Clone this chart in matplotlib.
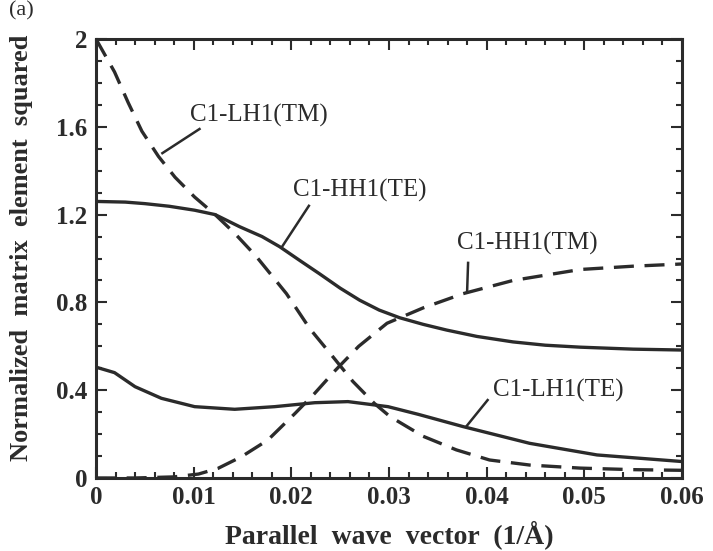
import matplotlib.pyplot as plt
from matplotlib.ticker import MultipleLocator

plt.rcParams['font.family'] = ['Liberation Serif', 'DejaVu Serif']

# curves (x in 1/A, y normalized)
x_lh1_tm = [0, 0.0019, 0.0033, 0.0047, 0.0064, 0.0081, 0.0101, 0.0122, 0.0142,
            0.0164, 0.0195, 0.0219, 0.0243, 0.0263, 0.0285, 0.0301, 0.0335,
            0.0369, 0.0403, 0.0444, 0.0496, 0.055, 0.06]
y_lh1_tm = [2.0, 1.85, 1.71, 1.58, 1.465, 1.37, 1.28, 1.20, 1.115,
            1.01, 0.84, 0.68, 0.55, 0.44, 0.34, 0.28, 0.19,
            0.128, 0.082, 0.059, 0.045, 0.038, 0.035]

x_hh1_te = [0, 0.003, 0.005, 0.0075, 0.0101, 0.0122, 0.0147, 0.017, 0.0188,
            0.0209, 0.0229, 0.025, 0.027, 0.029, 0.0311, 0.0335, 0.0359, 0.039,
            0.0427, 0.046, 0.0496, 0.055, 0.06]
y_hh1_te = [1.26, 1.257, 1.25, 1.238, 1.22, 1.20, 1.145, 1.10, 1.054,
            0.99, 0.93, 0.865, 0.81, 0.765, 0.73, 0.70, 0.674, 0.645,
            0.62, 0.605, 0.596, 0.587, 0.583]

x_hh1_tm = [0, 0.004, 0.008, 0.0105, 0.0125, 0.0149, 0.0176, 0.0204, 0.0224,
            0.0245, 0.0269, 0.0298, 0.0335, 0.0376, 0.0427, 0.0496, 0.055, 0.06]
y_hh1_tm = [0.0, 0.0, 0.005, 0.018, 0.044, 0.097, 0.173, 0.295, 0.386,
            0.49, 0.60, 0.705, 0.775, 0.84, 0.90, 0.95, 0.965, 0.975]

x_lh1_te = [0, 0.0019, 0.004, 0.0067, 0.0101, 0.0142, 0.0183, 0.0224, 0.0258,
            0.0299, 0.033, 0.0376, 0.0444, 0.0513, 0.06]
y_lh1_te = [0.505, 0.48, 0.416, 0.363, 0.325, 0.313, 0.325, 0.343, 0.348,
            0.325, 0.29, 0.234, 0.158, 0.105, 0.075]

# label text, text anchor, leader start, leader end
labels = ['C1-LH1(TM)', 'C1-HH1(TE)', 'C1-HH1(TM)', 'C1-LH1(TE)']
label_pos = [(0.0096, 1.65), (0.0202, 1.31), (0.037, 1.07), (0.0406, 0.40)]
leader_from = [(0.0106, 1.59), (0.0218, 1.24), (0.0381, 0.98), (0.0401, 0.355)]
leader_to = [(0.0068, 1.48), (0.019, 1.05), (0.038, 0.85), (0.0379, 0.234)]

fig = plt.figure(figsize=(7.13, 5.51), dpi=100)
ax = fig.add_axes([0.1346, 0.1325, 0.9565 - 0.1346, 0.9292 - 0.1325])

lw = 2.4
dash = (6, 3.2)
ink = '#2b2b2b'
ax.plot(x_lh1_tm, y_lh1_tm, color=ink, lw=lw, dashes=dash)
ax.plot(x_hh1_te, y_hh1_te, color=ink, lw=lw)
ax.plot(x_hh1_tm, y_hh1_tm, color=ink, lw=lw, dashes=dash)
ax.plot(x_lh1_te, y_lh1_te, color=ink, lw=lw)

for txt, pos, p0, p1 in zip(labels, label_pos, leader_from, leader_to):
    ax.text(pos[0], pos[1], txt, fontsize=18, color=ink, ha='left', va='center')
    ax.plot([p0[0], p1[0]], [p0[1], p1[1]], color=ink, lw=1.8)

ax.set_xlim(0, 0.06)
ax.set_ylim(0, 2)
ax.xaxis.set_minor_locator(MultipleLocator(0.002))
ax.yaxis.set_minor_locator(MultipleLocator(0.1))
ax.set_xticks([0, 0.01, 0.02, 0.03, 0.04, 0.05, 0.06])
ax.set_xticklabels(['0', '0.01', '0.02', '0.03', '0.04', '0.05', '0.06'])
ax.set_yticks([0, 0.4, 0.8, 1.2, 1.6, 2.0])
ax.set_yticklabels(['0', '0.4', '0.8', '1.2', '1.6', '2'])

ax.tick_params(which='both', direction='in', top=True, right=True,
               color=ink, width=1.5)
ax.tick_params(which='major', length=8, labelsize=18, labelcolor=ink, pad=6)
ax.tick_params(which='minor', length=4)
for lab in ax.get_xticklabels() + ax.get_yticklabels():
    lab.set_fontweight('bold')
for sp in ax.spines.values():
    sp.set_linewidth(2.2)
    sp.set_color(ink)

ax.set_xlabel('Parallel  wave  vector  (1/Å)', fontsize=20, fontweight='bold',
              color=ink, labelpad=8)
ax.set_ylabel('Normalized  matrix  element  squared', fontsize=19,
              fontweight='bold', color=ink)
ax.yaxis.set_label_coords(-0.108, 0.525)

fig.text(0.012, 0.997, '(a)', fontsize=16, color=ink, ha='left', va='top')

fig.savefig('out.png', dpi=100, facecolor='white')
